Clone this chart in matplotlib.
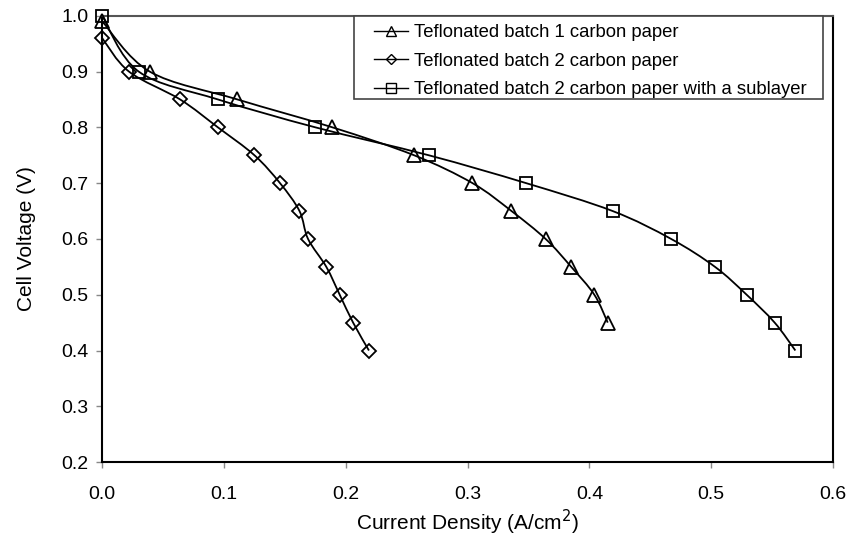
import matplotlib
matplotlib.use('Agg')
import matplotlib.pyplot as plt
from matplotlib.path import Path
from matplotlib.patches import PathPatch, Rectangle
from matplotlib.lines import Line2D
import numpy as np

plt.rcParams['font.family'] = ['Liberation Sans', 'DejaVu Sans']

voltage_b1 = [0.99, 0.90, 0.85, 0.80, 0.75, 0.70, 0.65, 0.60, 0.55, 0.50, 0.45]
current_b1 = [0.0, 0.039, 0.111, 0.189, 0.256, 0.304, 0.336, 0.364, 0.385, 0.404, 0.415]

voltage_b2 = [0.96, 0.90, 0.85, 0.80, 0.75, 0.70, 0.65, 0.60, 0.55, 0.50, 0.45, 0.40]
current_b2 = [0.0, 0.022, 0.064, 0.095, 0.125, 0.146, 0.162, 0.169, 0.184, 0.195, 0.206, 0.219]

voltage_sub = [1.00, 0.90, 0.85, 0.80, 0.75, 0.70, 0.65, 0.60, 0.55, 0.50, 0.45, 0.40]
current_sub = [0.0, 0.030, 0.095, 0.175, 0.268, 0.348, 0.419, 0.467, 0.503, 0.529, 0.552, 0.569]

labels = ['Teflonated batch 1 carbon paper',
          'Teflonated batch 2 carbon paper',
          'Teflonated batch 2 carbon paper with a sublayer']


def smooth_path(x, y):
    # excel style smoothed line: cubic bezier segments through each point
    p = np.column_stack([x, y])
    n = len(p)
    verts = [p[0]]
    codes = [Path.MOVETO]
    for i in range(n - 1):
        p0 = p[i - 1] if i > 0 else p[i]
        p3 = p[i + 2] if i + 2 < n else p[i + 1]
        c1 = p[i] + (p[i + 1] - p0) / 6.0
        c2 = p[i + 1] - (p3 - p[i]) / 6.0
        verts += [c1, c2, p[i + 1]]
        codes += [Path.CURVE4] * 3
    return Path(verts, codes)


fig, ax = plt.subplots(figsize=(8.51, 5.43), dpi=100)
fig.subplots_adjust(left=0.12, right=0.979, top=0.971, bottom=0.149)

series = [(current_b1, voltage_b1, '^', 9.5),
          (current_b2, voltage_b2, 'D', 7),
          (current_sub, voltage_sub, 's', 9)]

handles = []
for (x, y, m, ms), lab in zip(series, labels):
    ax.add_patch(PathPatch(smooth_path(x, y), facecolor='none',
                           edgecolor='black', lw=1.3, zorder=2))
    ax.plot(x, y, linestyle='none', marker=m, markersize=ms,
            markerfacecolor='none', markeredgecolor='black',
            markeredgewidth=1.3, zorder=3, clip_on=False)
    handles.append(Line2D([], [], color='black', lw=1.0, marker=m,
                          markersize=ms * 0.8, markerfacecolor='none',
                          markeredgecolor='black', label=lab))

ax.set_xlim(0, 0.6)
ax.set_ylim(0.2, 1.0)
ax.set_xticks(np.arange(0, 0.61, 0.1))
ax.set_yticks(np.arange(0.2, 1.01, 0.1))
ax.set_xticklabels(['%.1f' % v for v in np.arange(0, 0.61, 0.1)])
ax.set_yticklabels(['%.1f' % v for v in np.arange(0.2, 1.01, 0.1)])
ax.tick_params(labelsize=14, length=4, width=1, color='#888888')
ax.tick_params(axis='x', pad=13)
ax.tick_params(axis='y', pad=6)

for s in ax.spines.values():
    s.set_linewidth(1.5)
ax.spines['top'].set_color('#555555')

ax.set_xlabel('Current Density (A/cm$^2$)', fontsize=15, labelpad=4)
ax.set_ylabel('Cell Voltage (V)', fontsize=15, labelpad=18)

# legend box drawn by hand, wider padding at the sides than at top/bottom
ax.add_patch(Rectangle((0.345, 0.814), 0.641, 0.186, transform=ax.transAxes,
                       facecolor='white', edgecolor='#444444', lw=1.2,
                       zorder=4, clip_on=False))
leg = ax.legend(handles=handles, loc='upper left', bbox_to_anchor=(0.372, 0.981),
                fontsize=13.3, frameon=False, borderpad=0, labelspacing=0.62,
                handlelength=1.85, handletextpad=0.3, borderaxespad=0)
leg.set_zorder(5)

plt.savefig('out.png', dpi=100)
